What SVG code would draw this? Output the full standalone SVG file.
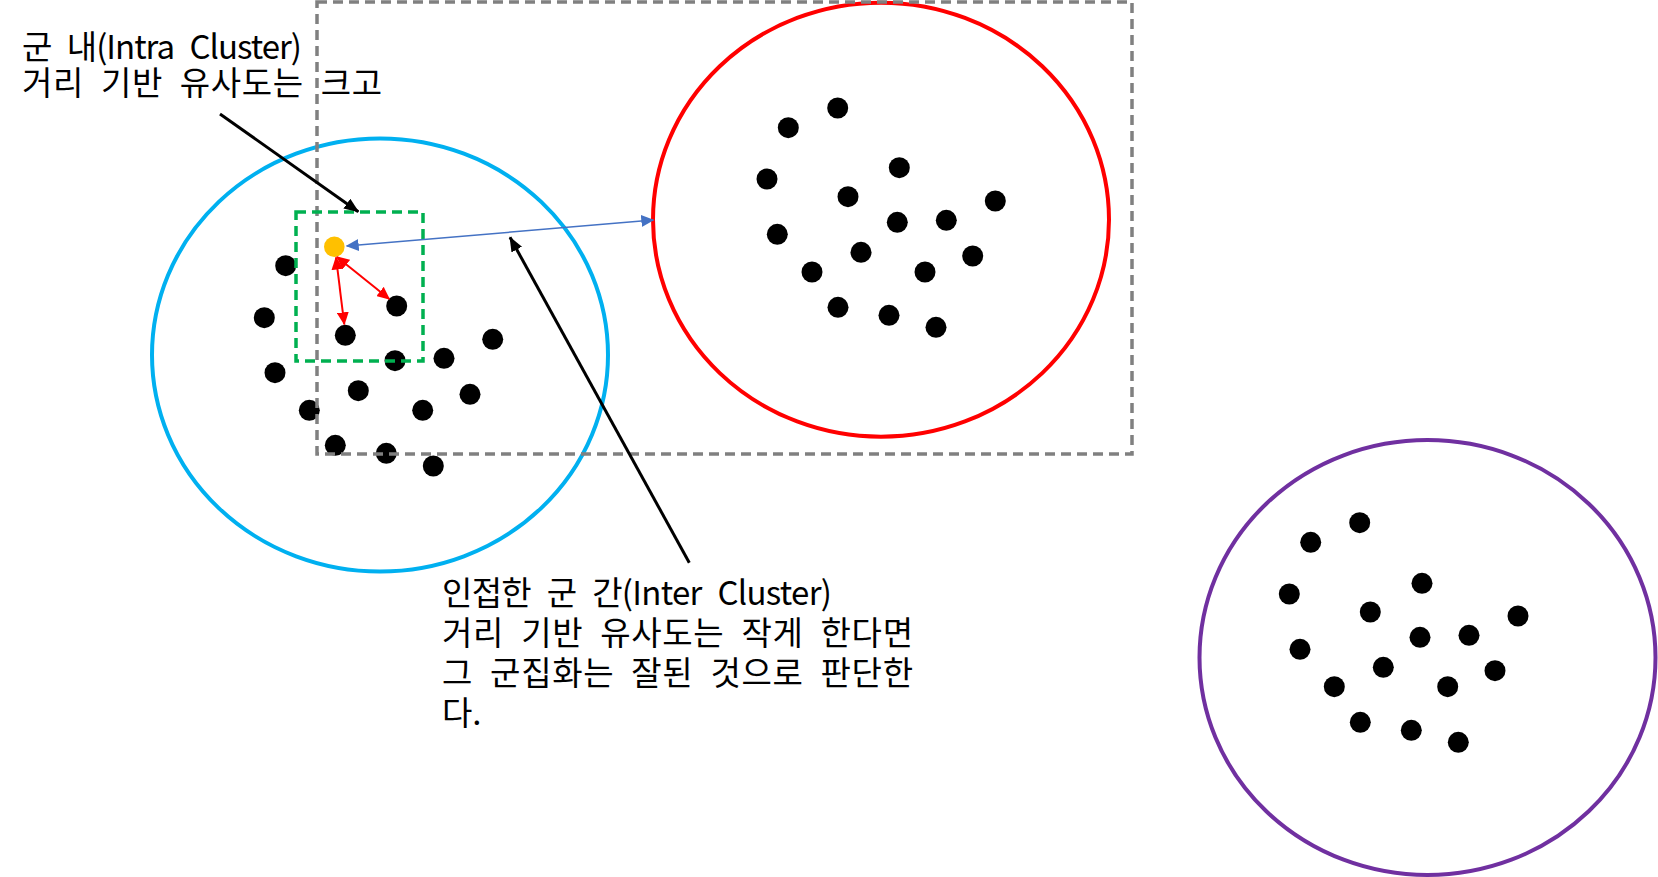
<svg xmlns="http://www.w3.org/2000/svg" width="1658" height="877" viewBox="0 0 1658 877">
<style>
  .dot { fill: #000000; }
  .lbl { font-family: "Noto Sans CJK KR", "Noto Sans", sans-serif; font-size: 33px; word-spacing: 9px; fill: #000000; }
  .cluster { fill: none; stroke-width: 4; }
</style>
<defs>
  <marker id="hBlack" markerUnits="userSpaceOnUse" markerWidth="16" markerHeight="12" refX="14" refY="6" orient="auto-start-reverse" viewBox="0 0 16 12">
    <path d="M0,0 L15,6 L0,12 z" fill="#000000"/>
  </marker>
  <marker id="hBlue" markerUnits="userSpaceOnUse" markerWidth="14" markerHeight="12" refX="12" refY="6" orient="auto-start-reverse" viewBox="0 0 14 12">
    <path d="M0,0 L13,6 L0,12 z" fill="#4472C4"/>
  </marker>
  <marker id="hRed" markerUnits="userSpaceOnUse" markerWidth="14" markerHeight="12" refX="12" refY="6" orient="auto-start-reverse" viewBox="0 0 14 12">
    <path d="M0,0 L13,6 L0,12 z" fill="#FF0000"/>
  </marker>
</defs>
<rect width="1658" height="877" fill="#ffffff"/>

<g id="cluster-blue">
  <ellipse class="cluster" cx="380" cy="355" rx="228" ry="216.5" stroke="#00B0F0"/>
  <circle class="dot" cx="285.7" cy="265.7" r="10.5"/>
  <circle class="dot" cx="264.3" cy="317.7" r="10.5"/>
  <circle class="dot" cx="396.7" cy="306" r="10.5"/>
  <circle class="dot" cx="345.3" cy="335.3" r="10.5"/>
  <circle class="dot" cx="275" cy="372.7" r="10.5"/>
  <circle class="dot" cx="395" cy="360.7" r="10.5"/>
  <circle class="dot" cx="444" cy="358.3" r="10.5"/>
  <circle class="dot" cx="492.7" cy="339.3" r="10.5"/>
  <circle class="dot" cx="358.3" cy="390.7" r="10.5"/>
  <circle class="dot" cx="309.3" cy="410.3" r="10.5"/>
  <circle class="dot" cx="422.7" cy="410.3" r="10.5"/>
  <circle class="dot" cx="470" cy="394.3" r="10.5"/>
  <circle class="dot" cx="335.3" cy="445.3" r="10.5"/>
  <circle class="dot" cx="386.3" cy="453.3" r="10.5"/>
  <circle class="dot" cx="433.3" cy="466" r="10.5"/>
  <circle cx="334.3" cy="246.7" r="10.3" fill="#FFC000"/>
</g>

<g id="cluster-red">
  <ellipse class="cluster" cx="881" cy="219.7" rx="228" ry="217" stroke="#FF0000"/>
  <circle class="dot" cx="837.7" cy="108" r="10.5"/>
  <circle class="dot" cx="788.3" cy="127.7" r="10.5"/>
  <circle class="dot" cx="767" cy="179" r="10.5"/>
  <circle class="dot" cx="899.3" cy="167.7" r="10.5"/>
  <circle class="dot" cx="848" cy="196.7" r="10.5"/>
  <circle class="dot" cx="995.3" cy="201" r="10.5"/>
  <circle class="dot" cx="897.3" cy="222.3" r="10.5"/>
  <circle class="dot" cx="946.3" cy="220.3" r="10.5"/>
  <circle class="dot" cx="777.3" cy="234.3" r="10.5"/>
  <circle class="dot" cx="861" cy="252.3" r="10.5"/>
  <circle class="dot" cx="812" cy="272" r="10.5"/>
  <circle class="dot" cx="925" cy="272" r="10.5"/>
  <circle class="dot" cx="972.7" cy="256" r="10.5"/>
  <circle class="dot" cx="838" cy="307.3" r="10.5"/>
  <circle class="dot" cx="889" cy="315.3" r="10.5"/>
  <circle class="dot" cx="936" cy="327.3" r="10.5"/>
</g>

<g id="cluster-purple">
  <ellipse class="cluster" cx="1427.5" cy="657.5" rx="228" ry="217.5" stroke="#7030A0"/>
  <circle class="dot" cx="1359.7" cy="522.7" r="10.5"/>
  <circle class="dot" cx="1310.7" cy="542.3" r="10.5"/>
  <circle class="dot" cx="1289.3" cy="594" r="10.5"/>
  <circle class="dot" cx="1422" cy="583.3" r="10.5"/>
  <circle class="dot" cx="1370.3" cy="612" r="10.5"/>
  <circle class="dot" cx="1518" cy="616" r="10.5"/>
  <circle class="dot" cx="1420" cy="637.3" r="10.5"/>
  <circle class="dot" cx="1469" cy="635.3" r="10.5"/>
  <circle class="dot" cx="1300" cy="649.3" r="10.5"/>
  <circle class="dot" cx="1383.3" cy="667.3" r="10.5"/>
  <circle class="dot" cx="1334.3" cy="686.7" r="10.5"/>
  <circle class="dot" cx="1447.7" cy="686.7" r="10.5"/>
  <circle class="dot" cx="1495" cy="670.7" r="10.5"/>
  <circle class="dot" cx="1360.3" cy="722.3" r="10.5"/>
  <circle class="dot" cx="1411.3" cy="730.3" r="10.5"/>
  <circle class="dot" cx="1458.3" cy="742.3" r="10.5"/>
</g>

<g id="region-gray">
  <rect x="317" y="2" width="815" height="452" fill="none" stroke="#808080" stroke-width="3.5" stroke-dasharray="10,6"/>
</g>

<g id="region-green">
  <rect x="296" y="212" width="127" height="149" fill="none" stroke="#00B050" stroke-width="3.5" stroke-dasharray="10,6"/>
</g>

<g id="label-intra">
  <text class="lbl"><tspan x="22" y="59" textLength="280" lengthAdjust="spacing">군 내(Intra Cluster)</tspan><tspan x="22" y="95" textLength="360" lengthAdjust="spacing">거리 기반 유사도는 크고</tspan></text>
</g>

<g id="label-inter">
  <text class="lbl"><tspan x="442" y="605" textLength="390" lengthAdjust="spacing">인접한 군 간(Inter Cluster)</tspan><tspan x="442" y="645" textLength="471" lengthAdjust="spacing">거리 기반 유사도는 작게 한다면</tspan><tspan x="442" y="685" textLength="471" lengthAdjust="spacing">그 군집화는 잘된 것으로 판단한</tspan><tspan x="442" y="725">다.</tspan></text>
</g>

<g id="connectors">
  <line x1="220" y1="114" x2="358.3" y2="211.7" stroke="#000000" stroke-width="3" marker-end="url(#hBlack)"/>
  <line x1="689.3" y1="562.7" x2="510" y2="237.3" stroke="#000000" stroke-width="3" marker-end="url(#hBlack)"/>
  <line x1="346.7" y1="246" x2="653.3" y2="220" stroke="#4472C4" stroke-width="1.5" marker-start="url(#hBlue)" marker-end="url(#hBlue)"/>
  <line x1="337" y1="257" x2="389.3" y2="299" stroke="#FF0000" stroke-width="2" marker-start="url(#hRed)" marker-end="url(#hRed)"/>
  <line x1="336" y1="257.5" x2="344.3" y2="324.3" stroke="#FF0000" stroke-width="2" marker-start="url(#hRed)" marker-end="url(#hRed)"/>
</g>
</svg>
